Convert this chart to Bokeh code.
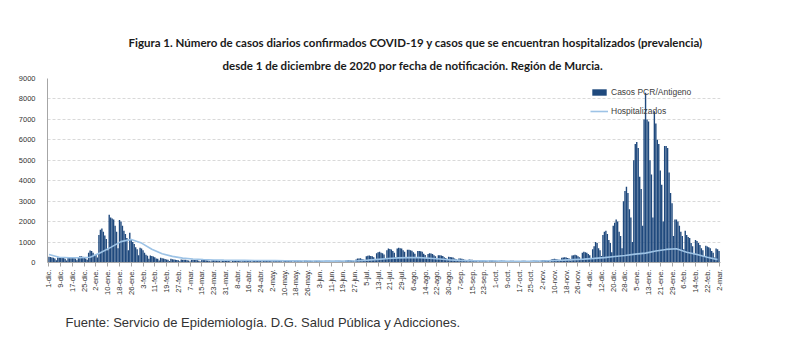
import math
from bokeh.plotting import figure
from bokeh.models import Range1d, FixedTicker, Title, Legend, LegendItem
from bokeh.embed import file_html
from bokeh.resources import INLINE

# Daily confirmed cases (PCR/Antigen), from 1-dic-2020 to 2-mar-2022, one row per week (Tue..Mon)
cases_rows = [
    [280, 265, 250, 230, 200, 110, 240],
    [235, 250, 225, 215, 185, 100, 230],
    [250, 245, 240, 225, 200, 110, 270],
    [310, 300, 280, 240, 200, 130, 480],
    [590, 560, 480, 350, 420, 250, 1350],
    [1600, 1660, 1500, 1320, 1150, 600, 2340],
    [2200, 2150, 2100, 1800, 1500, 700, 2080],
    [2000, 1800, 1550, 1400, 1200, 600, 1460],
    [1100, 1000, 900, 750, 650, 350, 720],
    [680, 600, 480, 380, 330, 180, 340],
    [320, 290, 260, 200, 180, 100, 230],
    [210, 195, 175, 150, 130, 70, 180],
    [165, 150, 140, 120, 105, 60, 150],
    [140, 135, 130, 115, 100, 55, 130],
    [130, 125, 120, 105, 90, 50, 120],
    [125, 120, 115, 100, 85, 50, 115],
    [120, 115, 110, 95, 80, 45, 110],
    [115, 110, 80, 70, 65, 40, 100],
    [120, 115, 110, 100, 85, 45, 115],
    [125, 120, 115, 100, 85, 50, 120],
    [120, 115, 110, 95, 80, 45, 115],
    [115, 110, 105, 95, 80, 45, 110],
    [110, 105, 100, 90, 75, 40, 105],
    [105, 100, 95, 85, 75, 40, 100],
    [100, 95, 90, 80, 70, 35, 95],
    [95, 90, 85, 80, 70, 35, 90],
    [90, 85, 80, 75, 65, 35, 85],
    [85, 80, 80, 70, 60, 30, 85],
    [90, 85, 85, 75, 65, 35, 95],
    [110, 120, 115, 100, 90, 50, 150],
    [190, 200, 210, 170, 150, 80, 300],
    [330, 340, 320, 300, 260, 130, 450],
    [500, 520, 480, 450, 390, 200, 600],
    [680, 660, 640, 560, 480, 250, 680],
    [720, 700, 680, 600, 520, 270, 620],
    [620, 600, 580, 500, 430, 230, 560],
    [560, 550, 520, 430, 370, 200, 420],
    [450, 440, 420, 350, 300, 160, 360],
    [350, 340, 320, 260, 220, 120, 280],
    [270, 260, 240, 200, 170, 90, 200],
    [190, 180, 160, 140, 120, 65, 150],
    [140, 130, 120, 100, 90, 50, 110],
    [110, 105, 100, 90, 75, 40, 95],
    [100, 95, 90, 80, 70, 35, 90],
    [95, 90, 85, 75, 65, 35, 85],
    [85, 80, 75, 70, 60, 30, 75],
    [85, 80, 80, 70, 60, 30, 80],
    [90, 95, 85, 80, 70, 35, 100],
    [110, 120, 110, 100, 85, 45, 150],
    [170, 180, 170, 150, 130, 70, 230],
    [250, 260, 240, 220, 190, 100, 340],
    [360, 380, 350, 300, 260, 130, 480],
    [520, 500, 480, 420, 360, 180, 650],
    [800, 1000, 950, 700, 600, 320, 1350],
    [1500, 1550, 1400, 1100, 950, 500, 1800],
    [1950, 2100, 2000, 1500, 1300, 700, 3000],
    [3500, 3700, 3400, 2600, 2200, 1000, 5000],
    [5800, 5900, 5600, 4200, 3600, 1800, 7000],
    [8300, 7000, 6900, 5000, 4300, 2200, 7400],
    [6800, 6000, 5800, 4500, 3800, 2000, 5700],
    [5700, 5600, 4400, 3400, 2900, 1300, 2100],
    [2100, 2000, 1800, 1500, 1300, 650, 1550],
    [1350, 1250, 1200, 950, 800, 400, 1100],
    [1050, 950, 850, 700, 600, 300, 820],
    [780, 740, 700, 560, 480, 250, 680],
    [650, 560],
]

# Hospitalised (prevalence), read weekly on each Tuesday from 1-dic-2020
hosp = [390, 260, 235, 235, 255, 480, 740, 1020, 1130, 950, 650, 430, 300,
        215, 170, 145, 125, 115, 110, 105, 100, 95, 90, 85, 80, 75, 70, 65,
        65, 70, 85, 115, 155, 195, 225, 240, 240, 210, 170, 130, 105, 90, 80,
        70, 65, 60, 60, 65, 75, 95, 115, 140, 165, 200, 240, 290, 340, 410,
        460, 560, 640, 670, 500, 390, 260, 140]

tick_labels = ["1-dic.", "9-dic.", "17-dic.", "25-dic.", "2-ene.", "10-ene.", "18-ene.",
               "26-ene.", "3-feb.", "11-feb.", "19-feb.", "27-feb.", "7-mar.", "15-mar.",
               "23-mar.", "31-mar.", "8-abr.", "16-abr.", "24-abr.", "2-may.", "10-may.",
               "18-may.", "26-may.", "3-jun.", "11-jun.", "19-jun.", "27-jun.", "5-jul.",
               "13-jul.", "21-jul.", "29-jul.", "6-ago.", "14-ago.", "22-ago.", "30-ago.",
               "7-sep.", "15-sep.", "23-sep.", "1-oct.", "9-oct.", "17-oct.", "25-oct.",
               "2-nov.", "10-nov.", "18-nov.", "26-nov.", "4-dic.", "12-dic.", "20-dic.",
               "28-dic.", "5-ene.", "13-ene.", "21-ene.", "29-ene.", "6-feb.", "14-feb.",
               "22-feb.", "2-mar."]

title_1 = "Figura 1. Número de casos diarios confirmados COVID-19 y casos que se encuentran hospitalizados (prevalencia)"
title_2 = "desde 1 de diciembre de 2020 por fecha de notificación. Región de Murcia."
source = "Fuente: Servicio de Epidemiología. D.G. Salud Pública y Adicciones."

cases = [v for row in cases_rows for v in row]
days = list(range(len(cases)))
hosp_days = list(range(0, 7 * len(hosp), 7))
tick_pos = list(range(0, 8 * len(tick_labels), 8))

FONT = "Liberation Sans"
TFONT = "Lato"

p = figure(width=800, height=348, output_backend="svg", toolbar_location=None,
           x_range=Range1d(-1, 457), y_range=Range1d(0, 9000),
           min_border_left=47, min_border_right=80, min_border_top=78, min_border_bottom=86)
p.outline_line_color = None
p.background_fill_color = "white"

bars = p.vbar(x=days, top=cases, width=0.95, fill_color="#1f497d", line_color=None)
ln = p.line(x=hosp_days, y=hosp, line_color="#9dc3e6", line_width=1.6)

p.title.text = title_1
p.title.align = "left"
p.title.offset = 81
p.title.text_font = TFONT
p.title.text_font_size = "11.5px"
p.title.text_font_style = "bold"
p.title.text_color = "#1a1a1a"
t2 = Title(text=title_2, align="left", offset=175, text_font=TFONT, text_font_size="11.5px",
           text_font_style="bold", text_color="#1a1a1a", vertical_align="top")
p.add_layout(t2, "above")

foot = Title(text=source, align="left", offset=18, text_font=FONT, text_font_size="13px",
             text_font_style="normal", text_color="#333333", standoff=26)
p.add_layout(foot, "below")

p.xgrid.grid_line_color = None
p.ygrid.grid_line_color = "#d9d9d9"
p.ygrid.grid_line_dash = "3 2"
p.yaxis.ticker = FixedTicker(ticks=list(range(0, 9001, 1000)))
p.yaxis.axis_line_color = "#a6a6a6"
p.yaxis.major_tick_line_color = None
p.yaxis.minor_tick_line_color = None
p.yaxis.major_label_text_font = FONT
p.yaxis.major_label_text_font_size = "7.5px"
p.yaxis.major_label_text_color = "#333333"
p.yaxis.major_label_standoff = 6

p.xaxis.ticker = FixedTicker(ticks=tick_pos)
p.xaxis.major_label_overrides = {pos: lab for pos, lab in zip(tick_pos, tick_labels)}
p.xaxis.major_label_orientation = math.pi / 2
p.xaxis.major_label_text_font = FONT
p.xaxis.major_label_text_font_size = "7.5px"
p.xaxis.major_label_text_color = "#333333"
p.xaxis.axis_line_color = "#a6a6a6"
p.xaxis.major_tick_line_color = "#a6a6a6"
p.xaxis.major_tick_in = 0
p.xaxis.major_tick_out = 4
p.xaxis.minor_tick_line_color = None
p.xaxis.major_label_standoff = 3

legend = Legend(items=[LegendItem(label="Casos PCR/Antigeno", renderers=[bars]),
                       LegendItem(label="Hospitalizados", renderers=[ln])],
                location=(543, 146), background_fill_alpha=0, border_line_color=None,
                label_text_font=FONT, label_text_font_size="8.5px", label_text_color="#404040",
                glyph_width=18, glyph_height=8, label_height=8, spacing=9, padding=2, margin=0,
                label_standoff=3)
p.add_layout(legend, "center")

open("out.html", "w").write(file_html(p, INLINE))
